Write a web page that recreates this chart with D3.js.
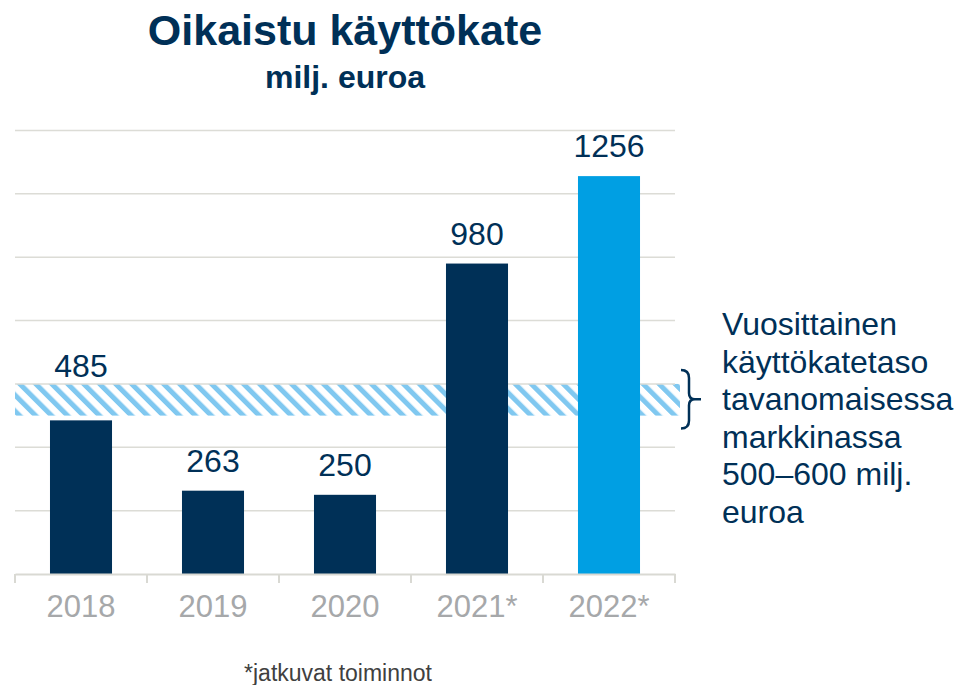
<!DOCTYPE html>
<html>
<head>
<meta charset="utf-8">
<script src="https://cdn.jsdelivr.net/npm/d3@7"></script>
<style>
  body { margin: 0; background: #fff; }
  text { font-family: "Liberation Sans", Arial, sans-serif; }
</style>
</head>
<body>
<div id="chart"></div>
<script>
// data
const years = ["2018", "2019", "2020", "2021*", "2022*"];
const ebitda = [485, 263, 250, 980, 1256];
const barColors = ["#003057", "#003057", "#003057", "#003057", "#009fe3"];
const yTicks = [0, 200, 400, 600, 800, 1000, 1200, 1400];
const normalRange = [500, 600];
const noteLines = ["Vuosittainen", "käyttökatetaso", "tavanomaisessa", "markkinassa", "500–600 milj.", "euroa"];

const W = 959, H = 685;
const navy = "#003057";

const svg = d3.select("#chart")
  .append("svg")
  .attr("width", W)
  .attr("height", H);

// scales
const x = d3.scaleBand()
  .domain(years)
  .range([15, 675])
  .padding(0);

const y = d3.scaleLinear()
  .domain([0, 1400])
  .range([574, 130.5]);

const barW = x.bandwidth() * 0.47;

// hatch pattern for the normal level band
const defs = svg.append("defs");
const pat = defs.append("pattern")
  .attr("id", "hatch")
  .attr("patternUnits", "userSpaceOnUse")
  .attr("width", 11.3)
  .attr("height", 11.3)
  .attr("patternTransform", "rotate(-45)");
pat.append("rect")
  .attr("width", 5)
  .attr("height", 11.3)
  .attr("fill", "#80c8f0");

svg.append("rect")
  .attr("x", 15)
  .attr("y", y(normalRange[1]))
  .attr("width", 680 - 15)
  .attr("height", y(normalRange[0]) - y(normalRange[1]))
  .attr("fill", "url(#hatch)");

// gridlines
svg.append("g")
  .selectAll("line")
  .data(yTicks.filter(d => d > 0))
  .join("line")
  .attr("x1", 15)
  .attr("x2", 675)
  .attr("y1", d => y(d))
  .attr("y2", d => y(d))
  .attr("stroke", "#dcdcd6")
  .attr("stroke-width", 1.5);

// bars
svg.append("g")
  .selectAll("rect")
  .data(years)
  .join("rect")
  .attr("x", d => x(d) + (x.bandwidth() - barW) / 2)
  .attr("y", (d, i) => y(ebitda[i]))
  .attr("width", barW)
  .attr("height", (d, i) => y(0) - y(ebitda[i]))
  .attr("fill", (d, i) => barColors[i]);

// value labels, pushed above the hatched band when they would sit in it
svg.append("g")
  .selectAll("text")
  .data(years)
  .join("text")
  .attr("x", d => x(d) + x.bandwidth() / 2)
  .attr("y", (d, i) => {
    let ty = y(ebitda[i]) - 19;
    if (ty > y(normalRange[1]) - 4 && ty - 24 < y(normalRange[0])) ty = y(normalRange[1]) - 7;
    return ty;
  })
  .attr("text-anchor", "middle")
  .attr("font-size", 32)
  .attr("fill", navy)
  .text((d, i) => ebitda[i]);

// x axis
const xAxis = svg.append("g")
  .attr("transform", `translate(0,${y(0)})`)
  .call(d3.axisBottom(x).tickSize(0).tickPadding(21));
xAxis.select(".domain").attr("stroke", "#d9d9d3").attr("stroke-width", 2);
xAxis.selectAll("text")
  .attr("font-family", "Liberation Sans, Arial, sans-serif")
  .attr("font-size", 31)
  .attr("fill", "#a6a8aa");

// tick marks at category boundaries
const edges = years.map(d => x(d)).concat([x.range()[1]]);
xAxis.selectAll(".edge")
  .data(edges)
  .join("line")
  .attr("class", "edge")
  .attr("x1", d => d)
  .attr("x2", d => d)
  .attr("y1", 0)
  .attr("y2", 9)
  .attr("stroke", "#d9d9d3")
  .attr("stroke-width", 2);

// bracket
const bt = y(normalRange[1]) - 14, bb = y(normalRange[0]) + 13, bm = (bt + bb) / 2;
svg.append("path")
  .attr("d", `M681,${bt} Q689,${bt} 689,${bt + 8} L689,${bm - 6} Q689,${bm} 695,${bm} L701,${bm}
              M695,${bm} Q689,${bm} 689,${bm + 6} L689,${bb - 8} Q689,${bb} 681,${bb}`)
  .attr("fill", "none")
  .attr("stroke", navy)
  .attr("stroke-width", 2.5);

// note text
svg.append("g")
  .selectAll("text")
  .data(noteLines)
  .join("text")
  .attr("x", 722)
  .attr("y", (d, i) => 335 + i * 37.5)
  .attr("font-size", 32)
  .attr("fill", navy)
  .text(d => d);

// titles
svg.append("text")
  .attr("x", 345)
  .attr("y", 45)
  .attr("text-anchor", "middle")
  .attr("font-size", 43)
  .attr("font-weight", "bold")
  .attr("fill", navy)
  .text("Oikaistu käyttökate");

svg.append("text")
  .attr("x", 345)
  .attr("y", 88)
  .attr("text-anchor", "middle")
  .attr("font-size", 32)
  .attr("font-weight", "bold")
  .attr("fill", navy)
  .text("milj. euroa");

// footnote
svg.append("text")
  .attr("x", 338)
  .attr("y", 681)
  .attr("text-anchor", "middle")
  .attr("font-size", 23)
  .attr("fill", "#404040")
  .text("*jatkuvat toiminnot");
</script>
</body>
</html>
